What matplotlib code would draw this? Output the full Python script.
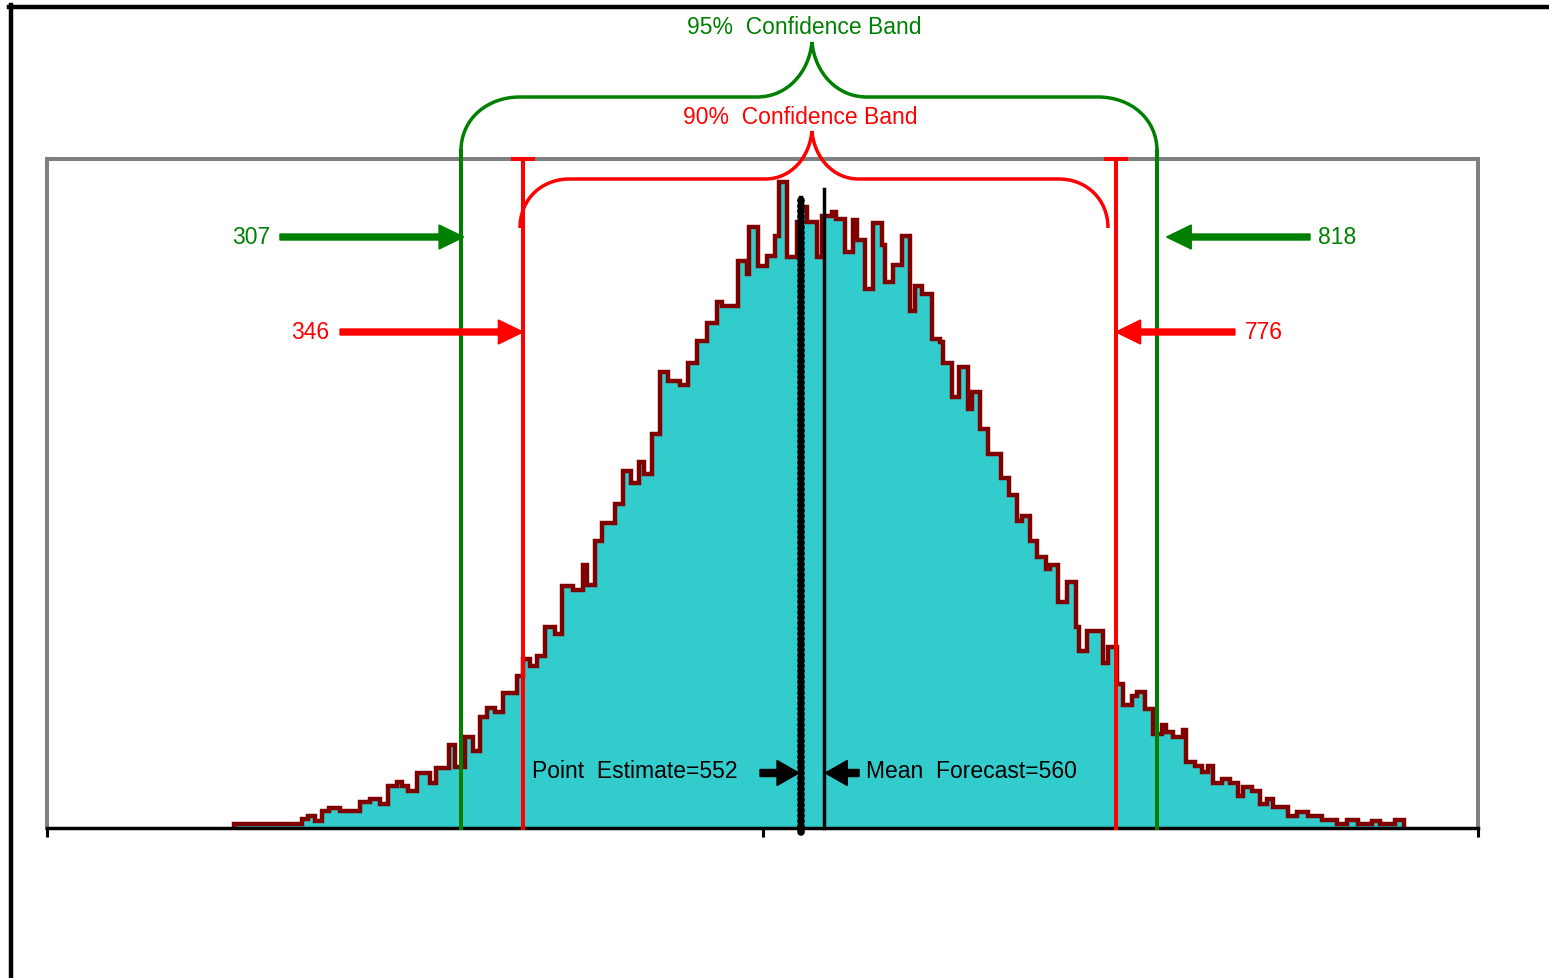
import matplotlib.pyplot as plt
import numpy as np
from matplotlib.path import Path
from matplotlib.patches import PathPatch, FancyArrow
from matplotlib.lines import Line2D

plt.rcParams['font.family'] = ['Liberation Sans', 'DejaVu Sans']

# simulated forecast histogram, bin edges and counts
bin_edges = [136.6, 186.2, 190.6, 195.7, 200.8, 205.9, 214.0, 228.6, 235.9, 243.2,
             249.0, 255.6, 259.2, 263.6, 270.2, 279.7, 284.1, 293.6, 297.9, 305.2,
             311.1, 316.2, 321.3, 327.2, 333.0, 343.2, 347.6, 352.7, 357.8, 363.7,
             371.0, 376.1, 384.1, 391.4, 394.3, 400.2, 405.3, 414.8, 420.6, 426.5,
             432.3, 436.0, 441.8, 447.6, 453.5, 462.2, 468.1, 474.7, 482.0, 489.3,
             492.9, 504.6, 511.2, 512.6, 519.2, 525.8, 531.6, 534.5, 540.4, 547.7,
             549.9, 555.0, 562.3, 565.9, 573.2, 576.2, 582.7, 588.6, 591.5, 597.3,
             603.2, 609.8, 612.0, 617.8, 624.4, 630.2, 633.9, 639.0, 646.3, 652.1,
             654.3, 660.9, 666.0, 672.6, 675.5, 681.3, 687.2, 696.7, 702.5, 708.3,
             712.0, 717.8, 722.9, 729.5, 732.4, 738.3, 744.9, 751.4, 753.6, 759.5,
             771.1, 774.8, 781.4, 785.8, 792.3, 796.0, 801.8, 807.6, 814.2, 817.2,
             822.3, 829.6, 831.8, 838.3, 843.4, 847.8, 851.5, 858.0, 863.9, 869.7,
             873.4, 880.0, 885.8, 890.9, 895.3, 906.2, 912.8, 920.8, 931.1, 942.0,
             949.3, 957.4, 967.6, 973.4, 984.4, 990.9]
counts = [4, 9, 12, 7, 17, 20, 17, 26, 29, 24,
          42, 46, 42, 37, 55, 45, 60, 83, 61, 91,
          77, 111, 120, 116, 135, 152, 169, 162, 172, 201,
          194, 242, 238, 263, 243, 287, 305, 324, 357, 345,
          366, 354, 394, 456, 447, 443, 465, 487, 505, 526,
          522, 567, 554, 601, 562, 572, 592, 646, 571, 606,
          621, 606, 571, 612, 616, 609, 576, 608, 588, 539,
          605, 583, 546, 563, 592, 517, 542, 534, 489, 486,
          465, 431, 461, 419, 436, 399, 374, 350, 333, 307,
          312, 287, 271, 259, 263, 226, 246, 201, 177, 197,
          165, 181, 144, 123, 132, 136, 119, 94, 103, 96,
          91, 98, 66, 62, 56, 62, 45, 49, 45, 32,
          41, 37, 24, 29, 21, 12, 16, 12, 8, 4,
          8, 4, 7, 4, 8]

# markers as drawn on the value axis, and the numbers printed for them
lo95, hi95 = 302.3, 810.6
lo90, hi90 = 347.6, 780.6
point_x, mean_x = 550.6, 567.4
lo95_txt, hi95_txt = '307', '818'
lo90_txt, hi90_txt = '346', '776'
point_txt = 'Point  Estimate=552'
mean_txt = 'Mean  Forecast=560'

GREEN = '#008000'
RED = '#FF0000'
TEAL = '#33CCCC'
MAROON = '#800000'

fig = plt.figure(figsize=(15.49, 9.79), dpi=100)
ax = fig.add_axes([47 / 1549, 150 / 979, 1431 / 1549, 669 / 979])
ax.set_xlim(0, 1045)
ax.set_ylim(0, 669)

ax.stairs(counts, bin_edges, fill=True, color=TEAL, zorder=1)
ax.stairs(counts, bin_edges, baseline=0, color=MAROON, lw=3.2, zorder=2)

for s in ['left', 'top', 'right']:
    ax.spines[s].set_color('#808080')
    ax.spines[s].set_linewidth(2.9)
ax.spines['bottom'].set_color('black')
ax.spines['bottom'].set_linewidth(2.5)
ax.spines['bottom'].set_zorder(3)
ax.set_yticks([])
ax.set_xticks([0, 522.5, 1045], ['', '', ''])
ax.tick_params(axis='x', direction='out', length=6.5, width=2.2, color='black')


def brace(x0, x1, y0, y1, tip, xc, r, c, color):
    verts = [(x0, y0),
             (x0, y0 + 0.6 * (y1 - y0)), (x0 + 0.45 * r, y1), (x0 + r, y1),
             (xc - c, y1),
             (xc - 0.45 * c, y1), (xc - 0.05 * c, y1 + 0.45 * (tip - y1)), (xc, tip),
             (xc + 0.05 * c, y1 + 0.45 * (tip - y1)), (xc + 0.45 * c, y1), (xc + c, y1),
             (x1 - r, y1),
             (x1 - 0.45 * r, y1), (x1, y0 + 0.6 * (y1 - y0)), (x1, y0)]
    codes = ([Path.MOVETO] + [Path.CURVE4] * 3 + [Path.LINETO] + [Path.CURVE4] * 6
             + [Path.LINETO] + [Path.CURVE4] * 3)
    ax.add_patch(PathPatch(Path(verts, codes), fill=False, edgecolor=color,
                           lw=2.5, clip_on=False, zorder=4))


# 95% band
for x in (lo95, hi95):
    ax.plot([x, x], [0, 677], color=GREEN, lw=2.9, clip_on=False, zorder=4)
brace(lo95, hi95, 677, 731, 786, 558.6, 43, 40, GREEN)
ax.text(552.8, 801, '95%  Confidence Band', color=GREEN, fontsize=16.5,
        ha='center', va='center')

# 90% band
for x in (lo90, hi90):
    ax.plot([x, x], [0, 669], color=RED, lw=2.9, clip_on=False, zorder=4)
    ax.plot([x - 7, x + 7], [669, 669], color=RED, lw=2.9, clip_on=False, zorder=4)
brace(lo90 - 2.2, hi90 - 5.8, 600, 649, 697, 558.6, 36, 34, RED)
ax.text(549.9, 711, '90%  Confidence Band', color=RED, fontsize=16.5,
        ha='center', va='center')


def arrow(tail, tip, y, color, width=6, head_w=24, head_l=18):
    ax.add_patch(FancyArrow(tail, y, tip - tail, 0, width=width, head_width=head_w,
                            head_length=head_l, length_includes_head=True,
                            color=color, clip_on=False, zorder=5))


arrow(170.1, lo95 + 2, 591, GREEN)
arrow(922.3, hi95 + 7, 591, GREEN)
arrow(214.0, lo90, 496, RED)
arrow(867.5, hi90, 496, RED)
ax.text(163, 591, lo95_txt, color=GREEN, fontsize=16.5, ha='right', va='center')
ax.text(928, 591, hi95_txt, color=GREEN, fontsize=16.5, ha='left', va='center')
ax.text(206, 496, lo90_txt, color=RED, fontsize=16.5, ha='right', va='center')
ax.text(875, 496, hi90_txt, color=RED, fontsize=16.5, ha='left', va='center')

# point estimate and mean of the simulation
ax.plot([point_x, point_x], [-4, 632], color='black', lw=5.5,
        linestyle=(0, (0.1, 0.6)), dash_capstyle='round', clip_on=False, zorder=6)
ax.plot([point_x, point_x], [-2, 630], color='black', lw=3.2, clip_on=False, zorder=6)
ax.plot([mean_x, mean_x], [0, 639], color='black', lw=2.5, clip_on=False, zorder=6)
arrow(520.7, point_x - 1.5, 55, 'black', width=7, head_w=25, head_l=16)
arrow(593.0, mean_x + 1, 55, 'black', width=7, head_w=25, head_l=16)
ax.text(504.6, 57, point_txt, color='black', fontsize=16.5, ha='right', va='center')
ax.text(598.1, 57, mean_txt, color='black', fontsize=16.5, ha='left', va='center')

# outer chart frame (left and top edges)
fig.add_artist(Line2D([10.5 / 1549, 10.5 / 1549], [0, 1 - 6 / 979],
                      transform=fig.transFigure, color='black', lw=3.2))
fig.add_artist(Line2D([8.5 / 1549, 1], [1 - 8.3 / 979, 1 - 8.3 / 979],
                      transform=fig.transFigure, color='black', lw=3.2))

fig.savefig('out.png', dpi=100)
